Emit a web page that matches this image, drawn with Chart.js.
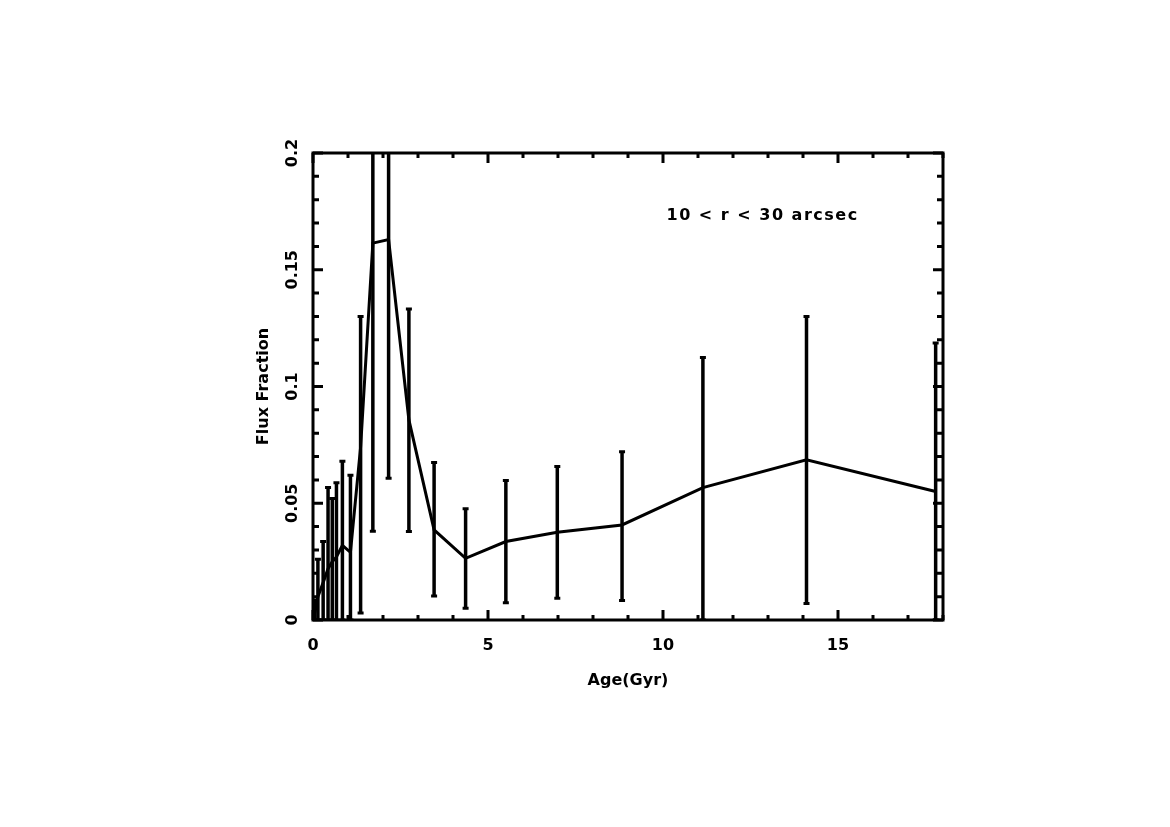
<!DOCTYPE html>
<html><head><meta charset="utf-8">
<script src="https://cdn.jsdelivr.net/npm/chart.js@4.4.1/dist/chart.umd.min.js"></script>
<style>html,body{margin:0;padding:0;background:#fff;}#wrap{width:1170px;height:827px;}</style>
</head><body><div id="wrap"><canvas id="c" width="1170" height="827"></canvas></div>
<script>
const ages  = [0.05, 0.14, 0.29, 0.43, 0.55, 0.67, 0.84, 1.07, 1.36, 1.71, 2.16, 2.74, 3.46, 4.36, 5.51, 6.98, 8.83, 11.14, 14.10, 17.79];
const flux  = [0.003, 0.010, 0.016, 0.022, 0.025, 0.027, 0.032, 0.029, 0.074, 0.1614, 0.1629, 0.0857, 0.0386, 0.0264, 0.0336, 0.0376, 0.0407, 0.0567, 0.0686, 0.0550];
const fluxHigh = [0.0086, 0.026, 0.0336, 0.0567, 0.052, 0.0588, 0.068, 0.062, 0.130, 0.25, 0.25, 0.1332, 0.0674, 0.0476, 0.0597, 0.0657, 0.0721, 0.1124, 0.130, 0.1186];
const fluxLow  = [0, 0, 0, 0, 0, 0, 0, 0, 0.003, 0.038, 0.0607, 0.0379, 0.0103, 0.005, 0.0074, 0.0093, 0.0083, 0, 0.0071, 0];
const xTickValues = [0, 5, 10, 15];
const xTickLabels = ["0", "5", "10", "15"];
const yTickValues = [0, 0.05, 0.1, 0.15, 0.2];
const yTickLabels = ["0", "0.05", "0.1", "0.15", "0.2"];
const xTitle = "Age(Gyr)";
const yTitle = "Flux Fraction";
const annotationText = "10 < r < 30 arcsec";
const annotationPos = [10.1, 0.173];

const FONT = 'bold 16px "DejaVu Sans", sans-serif';

const errorBarPlugin = {
  id: 'errbars',
  afterDatasetsDraw(chart) {
    const {ctx, chartArea: a, scales: {x, y}} = chart;
    ctx.save();
    ctx.beginPath();
    ctx.rect(a.left, a.top, a.right - a.left, a.bottom - a.top);
    ctx.clip();
    ctx.strokeStyle = '#000';
    ctx.lineCap = 'butt';
    for (let i = 0; i < ages.length; i++) {
      const px = x.getPixelForValue(ages[i]);
      const pTop = y.getPixelForValue(fluxHigh[i]);
      const pBot = y.getPixelForValue(fluxLow[i]);
      ctx.lineWidth = 3.5;
      ctx.beginPath();
      ctx.moveTo(px, pTop); ctx.lineTo(px, pBot);
      ctx.stroke();
      ctx.lineWidth = 3;
      ctx.beginPath();
      ctx.moveTo(px - 3, pTop); ctx.lineTo(px + 3, pTop);
      ctx.moveTo(px - 3, pBot); ctx.lineTo(px + 3, pBot);
      ctx.stroke();
    }
    ctx.restore();
  },
  afterDraw(chart) {
    const {ctx, chartArea: a, scales: {x, y}} = chart;
    ctx.save();
    ctx.strokeStyle = '#000';
    ctx.fillStyle = '#000';
    ctx.lineWidth = 3;
    ctx.strokeRect(a.left, a.top, a.right - a.left, a.bottom - a.top);
    for (let v = 0; v <= 18; v++) {
      const px = x.getPixelForValue(v);
      const len = (v % 5 === 0) ? 10 : 5;
      ctx.beginPath();
      ctx.moveTo(px, a.bottom); ctx.lineTo(px, a.bottom - len);
      ctx.moveTo(px, a.top); ctx.lineTo(px, a.top + len);
      ctx.stroke();
    }
    for (let i = 0; i <= 20; i++) {
      const py = y.getPixelForValue(i * 0.01);
      const len = (i % 5 === 0) ? 10 : 6;
      ctx.beginPath();
      ctx.moveTo(a.left, py); ctx.lineTo(a.left + len, py);
      ctx.moveTo(a.right, py); ctx.lineTo(a.right - len, py);
      ctx.stroke();
    }
    ctx.font = FONT;
    ctx.textAlign = 'center';
    ctx.textBaseline = 'middle';
    xTickValues.forEach((v, i) => {
      ctx.fillText(xTickLabels[i], x.getPixelForValue(v), a.bottom + 26);
    });
    yTickValues.forEach((v, i) => {
      ctx.save();
      ctx.translate(a.left - 20, y.getPixelForValue(v));
      ctx.rotate(-Math.PI / 2);
      ctx.fillText(yTickLabels[i], 0, 0);
      ctx.restore();
    });
    ctx.fillText(xTitle, (a.left + a.right) / 2, a.bottom + 61);
    ctx.save();
    ctx.translate(a.left - 49, (a.top + a.bottom) / 2);
    ctx.rotate(-Math.PI / 2);
    ctx.fillText(yTitle, 0, 0);
    ctx.restore();
    ctx.textAlign = 'left';
    ctx.letterSpacing = '1.5px';
    ctx.fillText(annotationText, x.getPixelForValue(annotationPos[0]), y.getPixelForValue(annotationPos[1]));
    ctx.restore();
  }
};

new Chart(document.getElementById('c'), {
  type: 'line',
  data: {
    datasets: [{
      data: ages.map((a, i) => ({x: a, y: flux[i]})),
      borderColor: '#000',
      borderWidth: 3,
      pointRadius: 0,
      tension: 0,
      fill: false
    }]
  },
  options: {
    responsive: false,
    animation: false,
    devicePixelRatio: 1,
    layout: {padding: {left: 313, right: 227, top: 153, bottom: 207}},
    scales: {
      x: {type: 'linear', min: 0, max: 18, display: false},
      y: {type: 'linear', min: 0, max: 0.2, display: false}
    },
    plugins: {legend: {display: false}, tooltip: {enabled: false}}
  },
  plugins: [errorBarPlugin]
});
</script>
</body></html>
